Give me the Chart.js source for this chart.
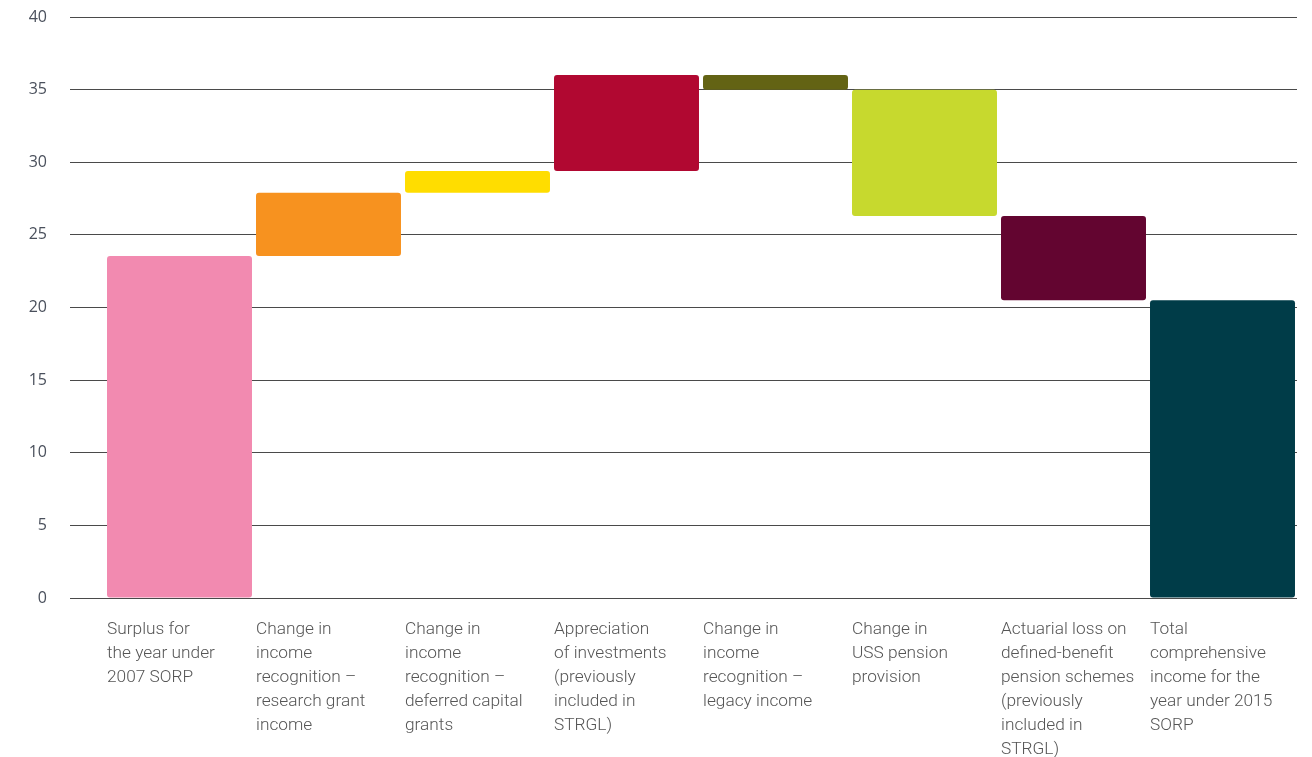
<!DOCTYPE html>
<html>
<head>
<meta charset="utf-8">
<script src="https://cdn.jsdelivr.net/npm/chart.js@4/dist/chart.umd.min.js"></script>
<style>
html,body{margin:0;padding:0;background:#fff;}
#wrap{width:1312px;height:757px;}
</style>
</head>
<body>
<div id="wrap"><canvas id="c" width="1312" height="757"></canvas></div>
<script>
const categories = [
  ["Surplus for", "the year under", "2007 SORP"],
  ["Change in", "income", "recognition \u2013", "research grant", "income"],
  ["Change in", "income", "recognition \u2013", "deferred capital", "grants"],
  ["Appreciation", "of investments", "(previously", "included in", "STRGL)"],
  ["Change in", "income", "recognition \u2013", "legacy income"],
  ["Change in", "USS pension", "provision"],
  ["Actuarial loss on", "defined-benefit", "pension schemes", "(previously", "included in", "STRGL)"],
  ["Total", "comprehensive", "income for the", "year under 2015", "SORP"]
];
const barStarts = [0, 23.55, 27.9, 29.4, 36.0, 35.0, 26.3, 20.5];
const barEnds   = [23.55, 27.9, 29.4, 36.0, 35.0, 26.3, 20.5, 0];
const barColors = ["#F28AB0", "#F7921F", "#FFDD00", "#B10831", "#636314", "#C7D92E", "#630530", "#003C48"];
const yTicks = [0, 5, 10, 15, 20, 25, 30, 35, 40];

new Chart(document.getElementById('c'), {
  type: 'bar',
  data: {
    labels: categories,
    datasets: [{
      data: barStarts.map((s, i) => [s, barEnds[i]]),
      backgroundColor: barColors,
      borderWidth: 0,
      borderRadius: 3,
      borderSkipped: false,
      barPercentage: 0.973,
      categoryPercentage: 1.0
    }]
  },
  options: {
    responsive: false,
    animation: false,
    layout: { padding: { top: 17, right: 15, left: 0, bottom: 0 } },
    plugins: { legend: { display: false }, tooltip: { enabled: false } },
    scales: {
      x: {
        grid: { display: false, drawTicks: false },
        border: { display: false },
        ticks: {
          autoSkip: false,
          maxRotation: 0,
          minRotation: 0,
          align: 'start',
          labelOffset: -72.5,
          padding: 20,
          color: '#555',
          font: { family: 'Roboto', size: 17.3, weight: 300, lineHeight: 1.38 }
        },
        afterFit: (s) => { s.height = 159; s.paddingLeft = 0; s.paddingRight = 0; }
      },
      y: {
        min: 0, max: 40,
        afterBuildTicks: (s) => { s.ticks = yTicks.map(v => ({ value: v })); },
        grid: { color: '#4a4a4a', lineWidth: 1, drawTicks: true, tickLength: 35, tickColor: '#4a4a4a' },
        border: { display: false },
        ticks: {
          padding: 23,
          color: '#4a505c',
          font: { family: 'Open Sans', size: 16, weight: 500 }
        },
        afterFit: (s) => { s.width = 105; s.paddingTop = 0; s.paddingBottom = 0; }
      }
    }
  }
});
</script>
</body>
</html>
